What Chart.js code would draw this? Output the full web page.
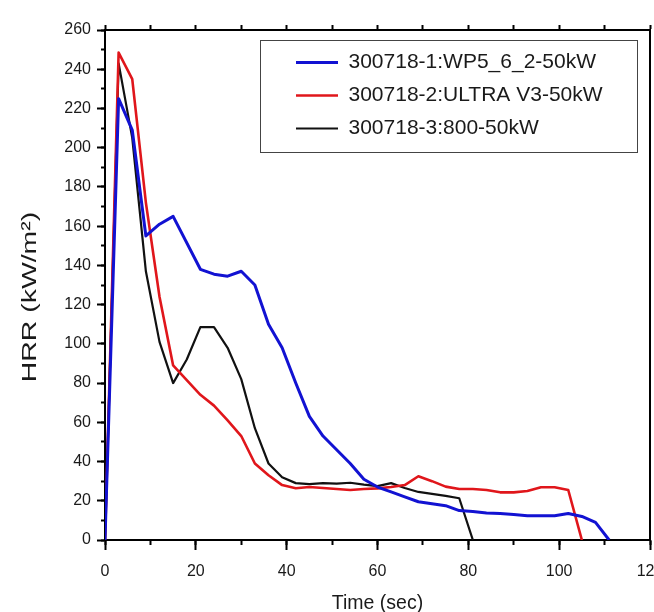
<!DOCTYPE html>
<html lang="en">
<head>
    <meta charset="UTF-8">
    <title>HRR vs Time</title>
    <script src="https://cdn.jsdelivr.net/npm/chart.js"></script>
    <style>
        html, body {
            margin: 0;
            padding: 0;
            background: #ffffff;
            overflow: hidden;
        }
        #wrap {
            width: 654px;
            height: 612px;
        }
    </style>
</head>
<body>
    <div id="wrap"><canvas id="hrrChart" width="654" height="612"></canvas></div>

    <script>
        // series names + axis text
        const seriesNames = ['300718-1:WP5_6_2-50kW', '300718-2:ULTRA V3-50kW', '300718-3:800-50kW'];
        const xTitle = 'Time (sec)';
        const yTitle = 'HRR (kW/m\u00B2)';

        // tick values
        const xTickVals = [0, 20, 40, 60, 80, 100, 120];
        const yTickVals = [0, 20, 40, 60, 80, 100, 120, 140, 160, 180, 200, 220, 240, 260];

        // 300718-1 (blue)
        const time1 = [0, 3, 6, 9, 12, 15, 21, 24, 27, 30, 33, 36, 39, 42, 45, 48, 51, 54, 57, 60, 63, 66, 69, 72, 75, 78, 81, 84, 87, 90, 93, 96, 99, 102, 105, 108, 111];
        const hrr1 = [0, 225, 209, 155, 161, 165, 138, 135.5, 134.5, 137, 130, 110, 98, 80, 63, 53, 46, 39, 31, 27, 24.5, 22, 19.5, 18.5, 17.5, 15, 14.5, 13.8, 13.5, 13, 12.4, 12.3, 12.4, 13.5, 12, 9, 0];

        // 300718-2 (red)
        const time2 = [0, 3, 6, 9, 12, 15, 18, 21, 24, 27, 30, 33, 36, 39, 42, 45, 48, 51, 54, 57, 60, 63, 66, 69, 72, 75, 78, 81, 84, 87, 90, 93, 96, 99, 102, 105];
        const hrr2 = [0, 248.5, 235, 172, 124, 89, 81.5, 74, 68.5, 61, 53, 39, 33, 28, 26.4, 27, 26.5, 26, 25.5, 26, 26.3, 27, 28, 32.5, 30, 27.2, 26, 26, 25.5, 24.3, 24.3, 25, 26.9, 26.9, 25.5, 0];

        // 300718-3 (black)
        const time3 = [0, 3, 6, 9, 12, 15, 18, 21, 24, 27, 30, 33, 36, 39, 42, 45, 48, 51, 54, 57, 60, 63, 66, 69, 72, 75, 78, 81];
        const hrr3 = [0, 243, 205, 137, 101, 80, 92, 108.5, 108.5, 98, 82, 57, 39, 32, 29, 28.5, 29, 28.7, 29.2, 28.2, 27.5, 29, 26.5, 24.5, 23.5, 22.5, 21.3, 0];

        const seriesColors = ['#1212d2', '#e0161b', '#111111'];
        const seriesWidths = [3, 2.6, 2.2];

        const sansFont = "'Liberation Sans', Arial, sans-serif";
        const textColor = '#1a1a1a';

        const toPoints = (xs, ys) => xs.map((x, i) => ({ x: x, y: ys[i] }));

        const datasets = [[time1, hrr1], [time2, hrr2], [time3, hrr3]].map(([xs, ys], i) => ({
            label: seriesNames[i],
            data: toPoints(xs, ys),
            borderColor: seriesColors[i],
            backgroundColor: seriesColors[i],
            borderWidth: seriesWidths[i],
            pointRadius: 0,
            pointStyle: 'line',
            tension: 0,
            borderJoinStyle: 'round',
            xAxisID: 'x',
            yAxisID: 'y'
        }));

        // frame around legend + stretched y title
        const decorPlugin = {
            id: 'decor',
            afterLayout(chart) {
                const lg = chart.legend;
                const w = lg.width, h = lg.height;
                lg.left = 284;
                lg.top = 40;
                lg.right = lg.left + w;
                lg.bottom = lg.top + h;
            },
            afterDraw(chart) {
                const ctx = chart.ctx;
                ctx.save();
                ctx.strokeStyle = '#444';
                ctx.lineWidth = 1;
                ctx.strokeRect(260.5, 40.5, 377, 112);

                ctx.translate(30, 297);
                ctx.rotate(-Math.PI / 2);
                ctx.scale(1.42, 1);
                ctx.font = "20px " + sansFont;
                ctx.fillStyle = textColor;
                ctx.textAlign = 'center';
                ctx.textBaseline = 'middle';
                ctx.fillText(yTitle, 0, 0);
                ctx.restore();
            }
        };

        const tickFont = { family: sansFont, size: 16 };
        const noGrid = (len) => ({ drawOnChartArea: false, drawTicks: len > 0, tickLength: len, tickColor: '#000', tickWidth: 2 });

        new Chart(document.getElementById('hrrChart').getContext('2d'), {
            type: 'line',
            data: { datasets: datasets },
            plugins: [decorPlugin],
            options: {
                responsive: false,
                animation: false,
                devicePixelRatio: 1,
                events: [],
                layout: { padding: { left: 0, right: 4, top: 30, bottom: 0 } },
                plugins: {
                    tooltip: { enabled: false },
                    legend: {
                        position: 'chartArea',
                        align: 'start',
                        labels: {
                            usePointStyle: true,
                            pointStyle: 'line',
                            pointStyleWidth: 42,
                            color: textColor,
                            padding: 12,
                            font: { family: sansFont, size: 21 }
                        }
                    }
                },
                scales: {
                    x: {
                        type: 'linear', position: 'bottom', weight: 1,
                        min: 0, max: 120,
                        afterBuildTicks: s => { s.ticks = xTickVals.map(v => ({ value: v })); },
                        afterFit: s => { s.height = 72; s.paddingLeft = 0; s.paddingRight = 0; },
                        grid: noGrid(10),
                        border: { display: true, color: '#000', width: 2 },
                        ticks: { color: textColor, font: tickFont, padding: 12, maxRotation: 0, autoSkip: false },
                        title: {
                            display: true, text: xTitle, color: textColor,
                            font: { family: sansFont, size: 19.5, lineHeight: 1 },
                            padding: { top: 0, bottom: -1 }
                        }
                    },
                    xMinor: {
                        type: 'linear', position: 'bottom', weight: 0,
                        min: 0, max: 120,
                        afterFit: s => { s.height = 0; s.paddingLeft = 0; s.paddingRight = 0; },
                        grid: noGrid(5),
                        border: { display: false },
                        ticks: { display: false, stepSize: 10 }
                    },
                    xTop: {
                        type: 'linear', position: 'top', weight: 0,
                        min: 0, max: 120,
                        afterFit: s => { s.height = 0; s.paddingLeft = 0; s.paddingRight = 0; },
                        grid: noGrid(5),
                        border: { display: true, color: '#000', width: 2 },
                        ticks: { display: false, stepSize: 10 }
                    },
                    y: {
                        type: 'linear', position: 'left', weight: 1,
                        min: 0, max: 260,
                        afterBuildTicks: s => { s.ticks = yTickVals.map(v => ({ value: v })); },
                        afterFit: s => { s.width = 105; },
                        grid: noGrid(8),
                        border: { display: true, color: '#000', width: 2 },
                        ticks: { color: textColor, font: tickFont, padding: 6, autoSkip: false }
                    },
                    yMinor: {
                        type: 'linear', position: 'left', weight: 0,
                        min: 0, max: 260,
                        afterFit: s => { s.width = 0; },
                        grid: noGrid(4),
                        border: { display: false },
                        ticks: { display: false, stepSize: 10 }
                    },
                    yRight: {
                        type: 'linear', position: 'right', weight: 0,
                        min: 0, max: 260,
                        afterFit: s => { s.width = 0; },
                        grid: noGrid(0),
                        border: { display: true, color: '#000', width: 2 },
                        ticks: { display: false }
                    }
                }
            }
        });
    </script>
</body>
</html>
